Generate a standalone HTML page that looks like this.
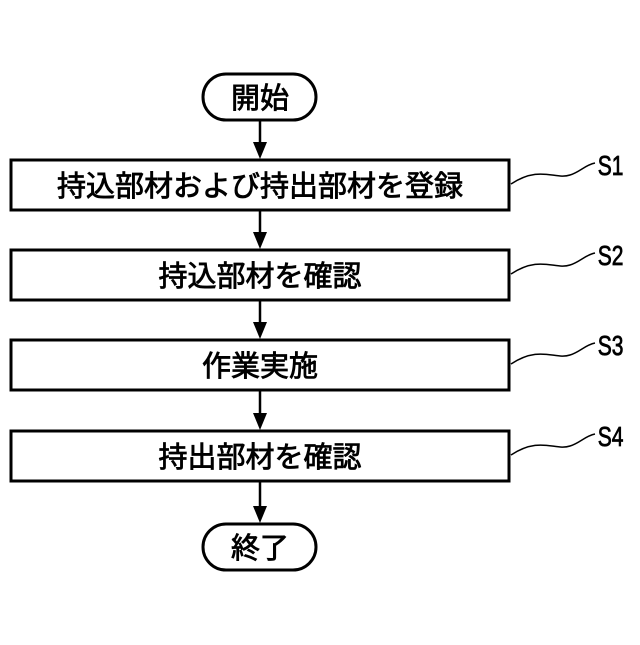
<!DOCTYPE html>
<html><head><meta charset="utf-8"><style>
html,body{margin:0;padding:0;background:#fff;}
svg text{font-family:"Liberation Sans","Noto Sans CJK JP",sans-serif;fill:#000;}
</style></head><body>
<svg width="640" height="640" viewBox="0 0 640 640" xmlns="http://www.w3.org/2000/svg">
<g stroke="#000" stroke-width="3" fill="none">
<rect x="203" y="74" width="113" height="46" rx="23"/>
<rect x="11" y="160" width="498" height="50"/>
<rect x="11" y="250" width="498" height="50"/>
<rect x="11" y="340" width="498" height="50"/>
<rect x="11" y="431" width="498" height="50"/>
<rect x="203" y="524" width="113" height="46" rx="23"/>
</g>
<g stroke="#000" stroke-width="2.5">
<line x1="260" y1="120" x2="260" y2="145"/>
<line x1="260" y1="210" x2="260" y2="235"/>
<line x1="260" y1="300" x2="260" y2="325"/>
<line x1="260" y1="390" x2="260" y2="416"/>
<line x1="260" y1="481" x2="260" y2="509"/>
</g>
<g fill="#000">
<polygon points="253,142 267,142 260,159"/>
<polygon points="253,232 267,232 260,249"/>
<polygon points="253,322 267,322 260,339"/>
<polygon points="253,413 267,413 260,430"/>
<polygon points="253,506 267,506 260,523"/>
</g>
<g stroke="#000" stroke-width="1.5" fill="none">
<path d="M511,184 C540,165 555,180 570,175 C580,172 585,165 595,163"/>
<path d="M511,274 C540,255 555,270 570,265 C580,262 585,255 595,253"/>
<path d="M511,364 C540,345 555,360 570,355 C580,352 585,345 595,343"/>
<path d="M511,455 C540,436 555,451 570,446 C580,443 585,436 595,434"/>
</g>
<g font-size="29" text-anchor="middle" stroke="#000" stroke-width="0.8">
<text x="260" y="108">開始</text>
<text x="260" y="196">持込部材および持出部材を登録</text>
<text x="260" y="286">持込部材を確認</text>
<text x="260" y="376">作業実施</text>
<text x="260" y="467">持出部材を確認</text>
<text x="260" y="558">終了</text>
</g>
<g font-size="28" transform="scale(0.75,1)" stroke="#000" stroke-width="0.8">
<text x="797" y="175">S1</text>
<text x="797" y="265">S2</text>
<text x="797" y="355">S3</text>
<text x="797" y="446">S4</text>
</g>
</svg>
</body></html>
